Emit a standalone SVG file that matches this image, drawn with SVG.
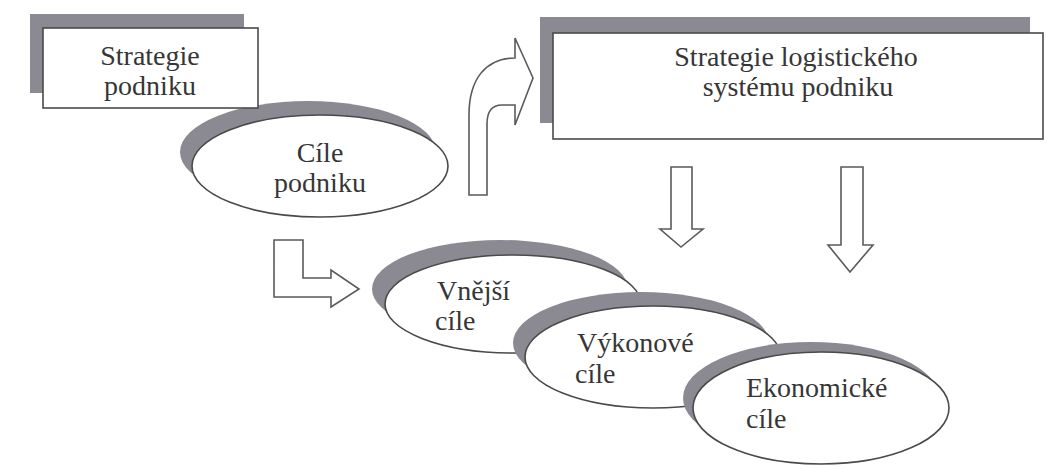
<svg xmlns="http://www.w3.org/2000/svg" width="1046" height="469" viewBox="0 0 1046 469">
<style>
.bg{fill:#ffffff}
.sh{fill:#8b8991;stroke:none}
.nd{fill:#ffffff;stroke:#4a4a4a;stroke-width:1.6}
.ar{fill:#ffffff;stroke:#5a5a5a;stroke-width:1.6;stroke-linejoin:miter}
text{font-family:"Liberation Serif","Times New Roman",serif;font-size:28px;fill:#363636}
.c{text-anchor:middle}
</style>
<rect class="bg" x="0" y="0" width="1046" height="469"/>

<g id="cile-podniku">
  <ellipse class="sh" cx="308" cy="152" rx="128" ry="51"/>
  <ellipse class="nd" cx="320" cy="166" rx="128" ry="51"/>
  <text class="c" x="320" y="162">Cíle</text>
  <text class="c" x="320" y="192">podniku</text>
</g>

<g id="strategie-podniku">
  <rect class="sh" x="30" y="14" width="214" height="79"/>
  <rect class="nd" x="43" y="28" width="215" height="80"/>
  <text class="c" x="150" y="65">Strategie</text>
  <text class="c" x="150" y="95">podniku</text>
</g>

<g id="strategie-logistickeho">
  <rect class="sh" x="540" y="17" width="490" height="106"/>
  <rect class="nd" x="553" y="33" width="490" height="106"/>
  <text class="c" x="796" y="66">Strategie logistického</text>
  <text class="c" x="798" y="96">systému podniku</text>
</g>

<g id="vnejsi-cile">
  <ellipse class="sh" cx="500" cy="289" rx="128" ry="49"/>
  <ellipse class="nd" cx="513" cy="304" rx="128" ry="49"/>
  <text x="437" y="300">Vnější</text>
  <text x="435" y="330">cíle</text>
</g>

<g id="vykonove-cile">
  <ellipse class="sh" cx="641" cy="343" rx="128" ry="51"/>
  <ellipse class="nd" cx="653" cy="357" rx="128" ry="51"/>
  <text x="577" y="352">Výkonové</text>
  <text x="575" y="383">cíle</text>
</g>

<g id="ekonomicke-cile">
  <ellipse class="sh" cx="811" cy="398" rx="128" ry="56"/>
  <ellipse class="nd" cx="821" cy="408" rx="128" ry="56"/>
  <text x="746" y="397">Ekonomické</text>
  <text x="746" y="428">cíle</text>
</g>

<g id="connectors">
  <path class="ar" d="M469,195 L469,115 C469,80 485,58 515,58 L515,38 L533,78 L515,125 L515,105 L502,105 C492,105 487,112 487,124 L487,195 Z"/>
  <path class="ar" d="M274,240 L303,240 L303,278 L331,278 L331,270 L359,289 L331,307 L331,297 L274,297 Z"/>
  <path class="ar" d="M671,167 L692,167 L692,229 L703,229 L681,247 L660,229 L671,229 Z"/>
  <path class="ar" d="M841,167 L863,167 L863,245 L873,245 L850,272 L828,245 L841,245 Z"/>
</g>
</svg>
